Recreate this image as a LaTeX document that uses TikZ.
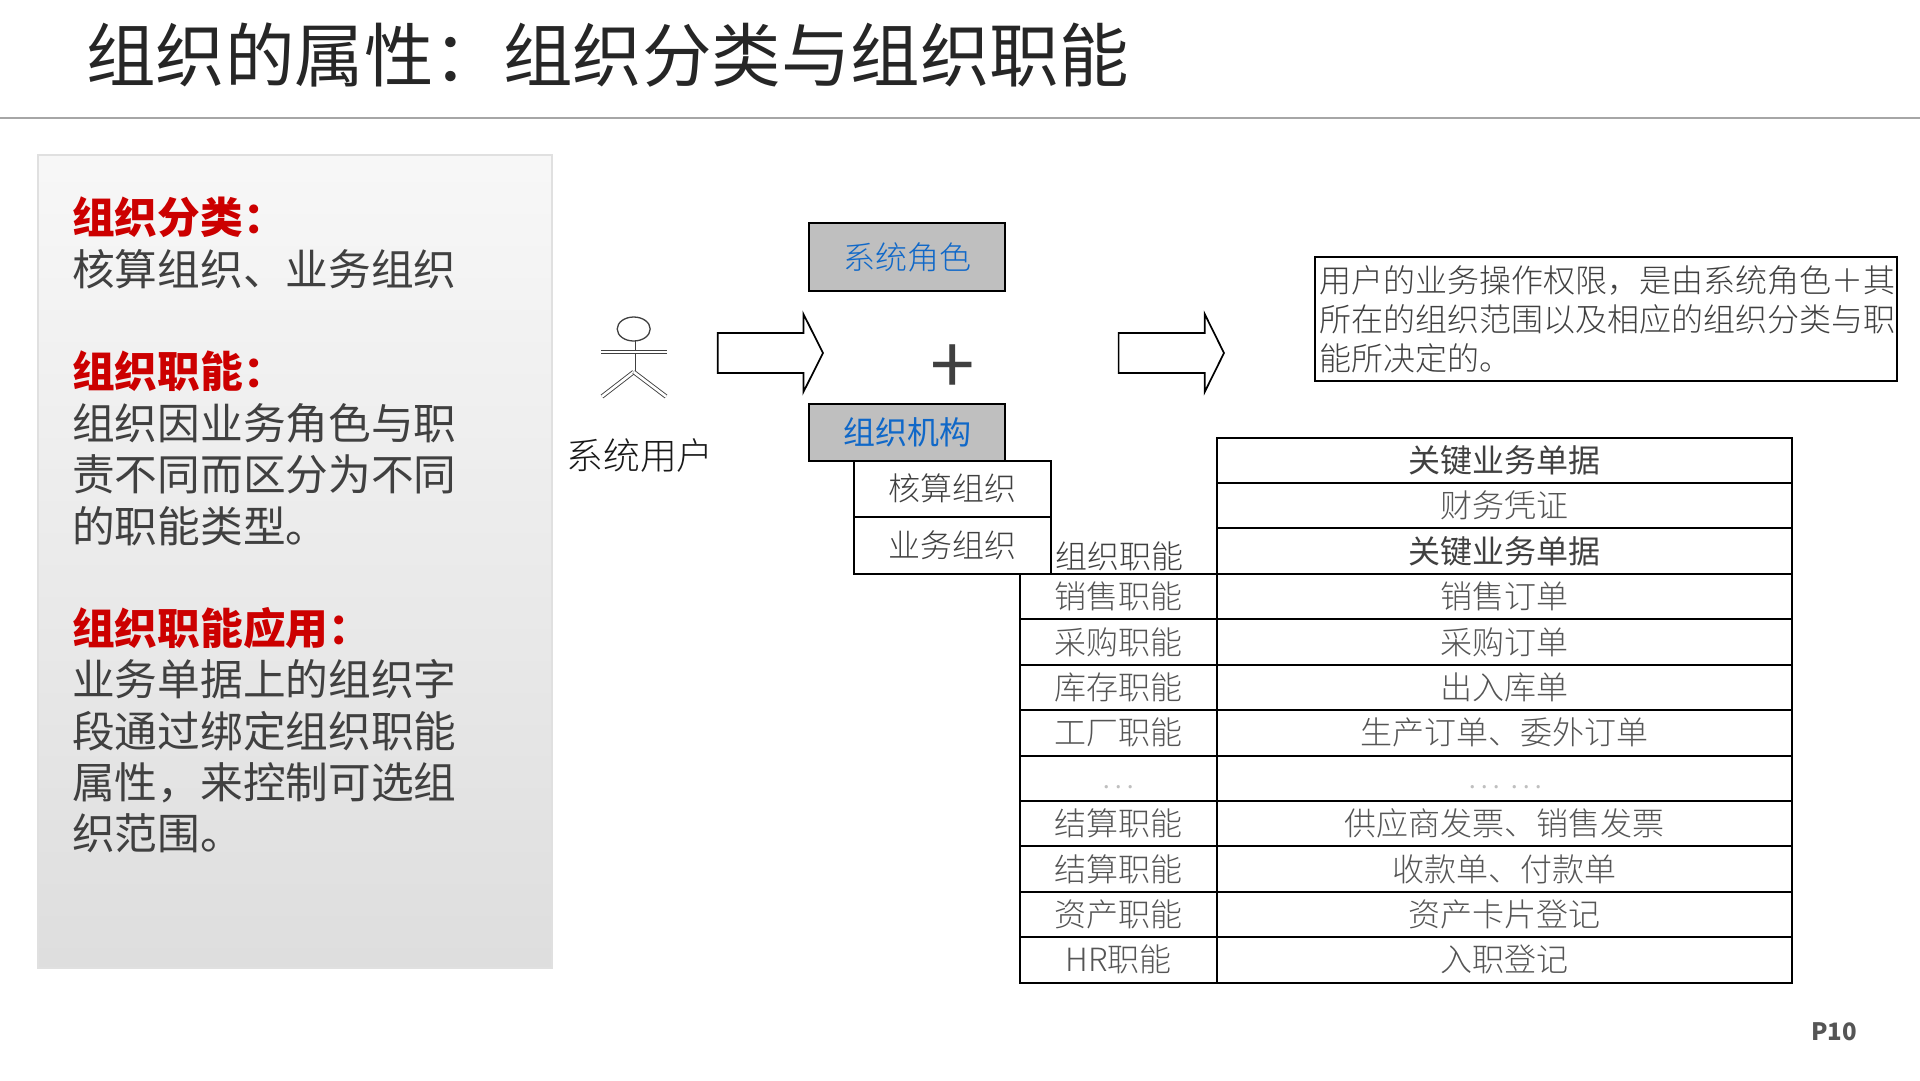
\documentclass[tikz,border=0pt]{standalone}
\usepackage{fontspec}
\setmainfont{Noto Sans CJK SC}[UprightFont=* Light,BoldFont=* Bold]
\newfontfamily\cjkreg{Noto Sans CJK SC}
\newcommand{\fsz}[2]{\fontsize{#1}{#2}\selectfont}
\definecolor{inkgray}{HTML}{404040}
\definecolor{cellgray}{HTML}{555555}
\definecolor{keyred}{HTML}{CC0000}
\definecolor{roleblue}{HTML}{1068C8}
\tikzset{
  px/.style={x=1pt,y=-1pt},
  line/.style={line width=2pt,draw=black},
  paratext/.style={anchor=north west,inner sep=0pt,align=left,text=inkgray,font=\cjkreg\fsz{42.7}{51.4}},
  rolebox/.style={line,fill=black!25,inner sep=0pt,text=roleblue,font=\fsz{32}{32},text height=28pt,text depth=4pt},
  orgbox/.style={line,inner sep=0pt,minimum width=196.4pt,text=inkgray,font=\fsz{32}{32},text height=28pt,text depth=4pt},
  cellL/.style={line,inner sep=0pt,minimum width=197pt,minimum height=45.4pt,text=cellgray,font=\fsz{32}{32},text height=28pt,text depth=4pt},
  cellR/.style={line,inner sep=0pt,minimum width=575.4pt,minimum height=45.4pt,text=cellgray,font=\fsz{32}{32},text height=28pt,text depth=4pt},
  keycell/.style={text=inkgray,font=\cjkreg\fsz{32}{32}},
  blockarrow/.style={line width=1.7pt,draw=black,fill=white,line join=miter},
  stick/.style={draw=black!75,line width=.9pt,double=white,double distance=2.6pt,line cap=butt},
}
\begin{document}
\begin{tikzpicture}[px]
\useasboundingbox (0,0) rectangle (1920,1080);
\node[anchor=west,inner sep=0pt,text=black!85,font=\cjkreg\fsz{69.5}{70}] (title) at (86,55) {组织的属性：组织分类与组织职能};
\coordinate (ruleL) at (0,118);
\coordinate (ruleR) at (1920,118);
\draw[line width=1.5pt,draw=black!35] (ruleL) -- (ruleR);
% left panel
\node[draw=black!12,line width=2pt,top color=black!3,bottom color=black!13,minimum width=514pt,minimum height=813pt,inner sep=0pt] (panel) at (295,561.5) {};
\node[paratext] (p1) at (72,197) {{\bfseries\textcolor{keyred}{组织分类：}}\\核算组织、业务组织};
\node[paratext] (p2) at (72,351) {{\bfseries\textcolor{keyred}{组织职能：}}\\组织因业务角色与职\\责不同而区分为不同\\的职能类型。};
\node[paratext] (p3) at (72,607) {{\bfseries\textcolor{keyred}{组织职能应用：}}\\业务单据上的组织字\\段通过绑定组织职能\\属性，来控制可选组\\织范围。};
% actor
\draw[stick] (633.7,341) -- (633.7,372);
\draw[stick] (601,352) -- (667,352);
\draw[stick] (633.7,372) -- (602,396.5);
\draw[stick] (633.7,372) -- (666,396.5);
\draw[draw=black!75,line width=1.3pt,fill=white] (633.7,329) ellipse (16.5pt and 12pt);
\node[inner sep=0pt,text=black!90,font=\fsz{36.8}{37},text height=32pt,text depth=4pt] (user) at (640,455) {系统用户};
% block arrows
\draw[blockarrow] (717.7,333) -- (803.4,333) -- (803.4,314) -- (823,353) -- (803.4,392) -- (803.4,373) -- (717.7,373) -- cycle;
\draw[blockarrow] (1118.6,333) -- (1204.7,333) -- (1204.7,314) -- (1224,353) -- (1204.7,392) -- (1204.7,373) -- (1118.6,373) -- cycle;
% centre
\node[rolebox,minimum width=196.4pt,minimum height=68pt] (role) at (907,257) {系统角色};
\node[inner sep=0pt,text=inkgray,font=\cjkreg\fsz{80}{80}] (plus) at (953,370) {+};
\node[rolebox,minimum width=196.4pt,minimum height=56.7pt,font=\cjkreg\fsz{32}{32}] (org) at (907,432.3) {组织机构};
\node[orgbox,minimum height=56pt] (org1) at (952.5,488.7) {核算组织};
\node[orgbox,minimum height=57pt] (org2) at (952.5,545.2) {业务组织};
% description
\node[line,minimum width=582.3pt,minimum height=124.3pt,inner sep=0pt,text width=572pt,align=left,text=inkgray,font=\fsz{32}{39}] (desc) at (1605.8,318.8) {用户的业务操作权限，是由系统角色＋其\\所在的组织范围以及相应的组织分类与职\\能所决定的。};
% table
\node[inner sep=0pt,text=inkgray,font=\fsz{32}{32},text height=28pt,text depth=4pt] (funchead) at (1119,556) {组织职能};
\node[cellR,keycell] (r1) at (1504.7,460.3) {关键业务单据};
\node[cellR] (r2) at (1504.7,505.7) {财务凭证};
\node[cellR,keycell] (r3) at (1504.7,551.1) {关键业务单据};
\node[cellL] (l1) at (1118.5,596.7) {销售职能};
\node[cellR] (r4) at (1504.7,596.7) {销售订单};
\node[cellL] (l2) at (1118.5,642.1) {采购职能};
\node[cellR] (r5) at (1504.7,642.1) {采购订单};
\node[cellL] (l3) at (1118.5,687.5) {库存职能};
\node[cellR] (r6) at (1504.7,687.5) {出入库单};
\node[cellL] (l4) at (1118.5,732.9) {工厂职能};
\node[cellR] (r7) at (1504.7,732.9) {生产订单、委外订单};
\node[cellL] (l5) at (1118.5,778.3) {};
\node[cellR] (r8) at (1504.7,778.3) {};
\node[inner sep=0pt,text=black!25,font=\fsz{32}{32}] (dots1) at (1118.5,787) {…};
\node[inner sep=0pt,text=black!25,font=\fsz{32}{32}] (dots2) at (1504.7,787) {…\hspace{9pt}…};
\node[cellL] (l6) at (1118.5,823.7) {结算职能};
\node[cellR] (r9) at (1504.7,823.7) {供应商发票、销售发票};
\node[cellL] (l7) at (1118.5,869.1) {结算职能};
\node[cellR] (r10) at (1504.7,869.1) {收款单、付款单};
\node[cellL] (l8) at (1118.5,914.5) {资产职能};
\node[cellR] (r11) at (1504.7,914.5) {资产卡片登记};
\node[cellL] (l9) at (1118.5,959.9) {HR职能};
\node[cellR] (r12) at (1504.7,959.9) {入职登记};
\node[inner sep=0pt,text=cellgray,font=\cjkreg\bfseries\fsz{24}{24}] (page) at (1834,1032) {P10};
\end{tikzpicture}
\end{document}
